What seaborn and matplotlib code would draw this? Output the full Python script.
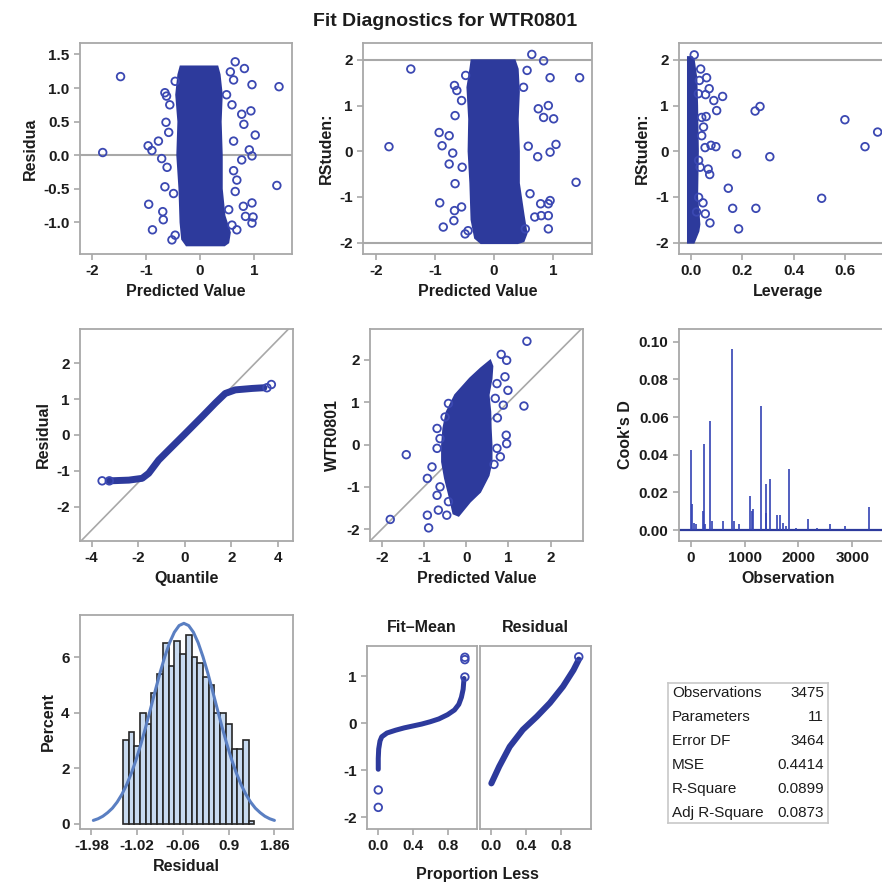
import matplotlib
matplotlib.use("Agg")
import matplotlib.pyplot as plt
from matplotlib.ticker import FormatStrFormatter
import seaborn as sns

sns.set_style("white")
plt.rcParams['font.family'] = ['Liberation Sans', 'DejaVu Sans']
plt.rcParams['font.weight'] = 'bold'
plt.rcParams['axes.labelweight'] = 'bold'
plt.rcParams['axes.unicode_minus'] = False

BLUE = '#2d3a9c'
RING = '#3b48b2'
GRAY = '#a8a8a8'
TXT = '#1c1c1c'

# --- residual vs predicted: dense core outline + separate circles
res_core_x = [-0.36, 0.32, 0.36, 0.40, 0.38, 0.40, 0.40, 0.45, 0.55, 0.52, 0.45, -0.25,
              -0.33, -0.36, -0.38, -0.42, -0.40, -0.44, -0.40]
res_core_y = [1.32, 1.32, 1.20, 0.90, 0.50, 0.00, -0.50, -0.90, -1.15, -1.30, -1.34, -1.34,
              -1.25, -1.00, -0.50, 0.00, 0.50, 0.90, 1.20]
res_pts_x = [-1.47, -1.80, 1.46, 1.42, 0.65, 0.82, 0.96, 0.94, 0.77, 0.81, 1.02, 0.91, 0.96,
             0.77, 0.62, 0.68, 0.96, 0.80, 0.98, 0.96, 0.84, 0.68, 0.59, 0.49, 0.62, 0.56,
             0.59, 0.62, 0.65, 0.53, -0.96, -0.89, -0.77, -0.95, -0.88, -0.69, -0.68, -0.65,
             -0.62, -0.56, -0.63, -0.71, -0.65, -0.61, -0.52, -0.46, -0.49, -0.58, -0.46]
res_pts_y = [1.17, 0.04, 1.02, -0.45, 1.39, 1.29, 1.05, 0.66, 0.61, 0.46, 0.30, 0.08, -0.01,
             -0.07, 0.21, -0.37, -0.71, -0.76, -0.92, -1.01, -0.91, -1.11, -1.04, 0.90, 1.12,
             1.24, 0.75, -0.23, -0.54, -0.81, 0.14, 0.07, 0.21, -0.73, -1.11, -0.84, -0.96,
             0.93, 0.88, 0.75, 0.49, -0.05, -0.47, -0.18, -1.26, -1.19, -0.57, 0.34, 1.10]

# --- RStudent vs predicted
rst_core_x = [-0.38, 0.35, 0.40, 0.42, 0.40, 0.42, 0.42, 0.50, 0.55, 0.50, 0.40, -0.22,
              -0.32, -0.38, -0.40, -0.43, -0.42, -0.45, -0.40]
rst_core_y = [1.99, 1.99, 1.80, 1.30, 0.70, 0.00, -0.70, -1.40, -1.80, -1.97, -2.01, -2.01,
              -1.90, -1.50, -0.70, 0.00, 0.70, 1.40, 1.80]
rst_pts_x = [-1.41, -1.78, 1.45, 1.39, 0.64, 0.84, 0.95, 0.92, 1.01, 0.75, 0.84, 1.05, 0.95,
             0.74, 0.58, 0.61, 0.95, 0.92, 0.79, 0.92, 0.92, 0.80, 0.69, 0.53, 0.50, 0.56,
             -0.93, -0.88, -0.76, -0.92, -0.86, -0.68, -0.67, -0.55, -0.67, -0.63, -0.55,
             -0.66, -0.70, -0.66, -0.54, -0.49, -0.48, -0.44, -0.76]
rst_pts_y = [1.80, 0.10, 1.61, -0.68, 2.12, 1.98, 1.61, 1.00, 0.71, 0.93, 0.74, 0.15, -0.02,
             -0.12, 0.11, -0.93, -1.08, -1.15, -1.15, -1.41, -1.70, -1.41, -1.44, -1.70, 1.40,
             1.77, 0.41, 0.12, 0.34, -1.13, -1.66, -1.52, -1.30, -1.22, 1.44, 1.33, 1.11, 0.78,
             -0.04, -0.71, -0.35, -1.81, 1.66, -1.74, -0.28]

# --- RStudent vs leverage
lev_core_x = [-0.010, 0.012, 0.030, 0.034, 0.025, 0.028, 0.025, 0.022, 0.012, 0.005, -0.010]
lev_core_y = [-2.00, -2.00, -1.75, -1.60, -1.00, 0.00, 1.00, 1.60, 2.00, 2.06, 2.06]
lev_pts_x = [0.014, 0.039, 0.062, 0.072, 0.058, 0.090, 0.124, 0.101, 0.269, 0.250, 0.598,
             0.725, 0.676, 0.307, 0.178, 0.098, 0.079, 0.056, 0.146, 0.163, 0.253, 0.186,
             0.508, 0.057, 0.075, 0.048, 0.068, 0.074, 0.037, 0.043, 0.060, 0.050, 0.043,
             0.034, 0.030, 0.031, 0.031, 0.023]
lev_pts_y = [2.11, 1.80, 1.61, 1.37, 1.24, 1.11, 1.20, 0.89, 0.98, 0.88, 0.69, 0.42, 0.10,
             -0.12, -0.06, 0.10, 0.13, 0.08, -0.81, -1.25, -1.25, -1.70, -1.03, -1.37, -1.57,
             -1.13, -0.39, -0.51, -0.35, 0.74, 0.76, 0.53, 0.34, 1.55, 1.26, -0.20, -1.01, -1.33]

# --- Q-Q plot of residuals
qq_quant = [-3.24, -2.40, -1.83, -1.55, -1.12, -0.69, -0.04, 0.74, 1.31, 1.74, 2.17, 2.89, 3.40]
qq_resid = [-1.28, -1.26, -1.21, -1.07, -0.70, -0.42, 0.00, 0.51, 0.89, 1.16, 1.26, 1.30, 1.32]
qq_end_q = [-3.55, -3.24, 3.53, 3.72]
qq_end_r = [-1.28, -1.28, 1.32, 1.41]
qq_slope = 0.664

# --- observed vs predicted
obs_core_x = [0.57, 0.62, 0.60, 0.53, 0.57, 0.58, 0.60, 0.60, 0.53, 0.33, 0.09, -0.18, -0.30,
              -0.38, -0.50, -0.57, -0.57, -0.54, -0.46, -0.26, 0.09, 0.35]
obs_core_y = [1.98, 1.85, 1.56, 1.17, 0.77, 0.38, -0.02, -0.41, -0.73, -1.12, -1.35, -1.68,
              -1.63, -1.28, -0.80, -0.41, -0.02, 0.38, 0.77, 1.17, 1.56, 1.80]
obs_pts_x = [1.44, 0.83, 0.96, 0.92, 0.99, 0.73, 0.69, 0.88, 1.37, 0.74, 0.95, 0.96, 0.73,
             0.81, 0.66, -1.42, -1.80, -0.89, -0.92, -0.66, -0.69, -0.92, -0.81, -0.62, -0.69,
             -0.62, -0.69, -0.42, -0.50, -0.42, -0.46]
obs_pts_y = [2.44, 2.13, 1.99, 1.60, 1.28, 1.44, 1.09, 0.93, 0.91, 0.63, 0.22, 0.02, -0.09,
             -0.29, -0.47, -0.24, -1.77, -1.97, -1.67, -1.55, -1.20, -0.80, -0.53, -1.00, 0.38,
             0.14, -0.09, 0.97, 0.65, -1.35, -1.67]

# --- Cook's D
cook_obs = [10, 20, 60, 90, 220, 240, 270, 350, 400, 600, 760, 810, 900, 1100, 1130, 1150,
            1310, 1390, 1400, 1480, 1600, 1650, 1710, 1760, 1820, 1950, 2170, 2350, 2580,
            2870, 3300]
cook_d = [0.0425, 0.014, 0.004, 0.003, 0.010, 0.0455, 0.003, 0.058, 0.005, 0.005, 0.096,
          0.005, 0.003, 0.018, 0.010, 0.011, 0.066, 0.009, 0.0245, 0.027, 0.008, 0.008,
          0.004, 0.002, 0.0325, 0.001, 0.006, 0.001, 0.003, 0.002, 0.012]

# --- residual histogram (percent) and normal curve
hist_mid = [-1.26, -1.14, -1.02, -0.90, -0.78, -0.66, -0.54, -0.42, -0.30, -0.18, -0.06,
            0.06, 0.18, 0.30, 0.42, 0.54, 0.66, 0.78, 0.90, 1.02, 1.14, 1.26, 1.38]
hist_pct = [3.0, 3.3, 2.8, 4.0, 3.6, 4.7, 5.4, 6.5, 5.7, 6.6, 6.1, 6.8, 6.0, 5.8, 5.3, 5.0,
            4.0, 4.0, 3.6, 2.7, 2.7, 3.0, 0.1]
norm_x = [-1.94, -1.84, -1.74, -1.64, -1.54, -1.44, -1.34, -1.24, -1.14, -1.04, -0.94, -0.84,
          -0.74, -0.64, -0.54, -0.44, -0.34, -0.24, -0.14, -0.04, 0.06, 0.16, 0.26, 0.36,
          0.46, 0.56, 0.66, 0.76, 0.86, 0.96, 1.06, 1.16, 1.26, 1.36, 1.46, 1.56, 1.66, 1.76,
          1.86]
norm_y = [0.12, 0.18, 0.27, 0.40, 0.56, 0.78, 1.06, 1.41, 1.83, 2.32, 2.88, 3.49, 4.14, 4.80,
          5.44, 6.02, 6.52, 6.90, 7.14, 7.22, 7.14, 6.90, 6.52, 6.02, 5.44, 4.80, 4.14, 3.49,
          2.88, 2.32, 1.83, 1.41, 1.06, 0.78, 0.56, 0.40, 0.27, 0.18, 0.12]

# --- residual-fit spread
fm_prop = [0.0, 0.0, 0.005, 0.02, 0.04, 0.10, 0.20, 0.30, 0.40, 0.50, 0.60, 0.70, 0.80,
           0.88, 0.93, 0.96, 0.98, 0.99]
fm_val = [-0.98, -0.75, -0.55, -0.38, -0.29, -0.21, -0.15, -0.10, -0.06, -0.02, 0.03, 0.09,
          0.18, 0.28, 0.40, 0.55, 0.72, 0.95]
fm_ext_p = [0.0, 0.0, 1.0, 1.0, 1.0]
fm_ext_v = [-1.79, -1.42, 0.98, 1.35, 1.40]
rs_prop = [0.0, 0.09, 0.21, 0.36, 0.52, 0.67, 0.82, 0.94, 1.0]
rs_val = [-1.28, -0.92, -0.50, -0.14, 0.14, 0.43, 0.78, 1.13, 1.35]

# --- fit statistics
stat_names = ["Observations", "Parameters", "Error DF", "MSE", "R-Square", "Adj R-Square"]
stat_vals = ["3475", "11", "3464", "0.4414", "0.0899", "0.0873"]

W, H = 882, 886
fig = plt.figure(figsize=(W / 100, H / 100), dpi=100)


def box(x0, y0, x1, y1, **kw):
    return fig.add_axes([x0 / W, 1 - y1 / H, (x1 - x0) / W, (y1 - y0) / H], **kw)


def dress(ax):
    for s in ax.spines.values():
        s.set_color(GRAY)
        s.set_linewidth(1.3)
    ax.tick_params(colors=GRAY, labelcolor=TXT, length=4, width=1.2, labelsize=11,
                   direction='out', bottom=True, left=True)
    ax.xaxis.label.set_color(TXT)
    ax.yaxis.label.set_color(TXT)
    ax.xaxis.label.set_size(11.5)
    ax.yaxis.label.set_size(11.5)


def rings(ax, x, y):
    sns.scatterplot(x=x, y=y, ax=ax, marker='o', s=30, facecolor='none',
                    edgecolor=RING, linewidth=1.3, zorder=3)


# row 1
ax = box(80, 43, 292, 254)
ax.axhline(0, color=GRAY, lw=1.5, zorder=1)
ax.fill(res_core_x, res_core_y, color=BLUE, zorder=2, lw=1.5, ec=BLUE)
rings(ax, res_pts_x, res_pts_y)
ax.set(xlim=(-2.22, 1.70), ylim=(-1.47, 1.67), xticks=[-2, -1, 0, 1],
       yticks=[-1.0, -0.5, 0.0, 0.5, 1.0, 1.5], xlabel='Predicted Value', ylabel='Residua')
ax.yaxis.set_major_formatter(FormatStrFormatter('%.1f'))
dress(ax)

ax = box(363, 43, 592, 254)
for v in (-2, 2):
    ax.axhline(v, color=GRAY, lw=1.5, zorder=1)
ax.fill(rst_core_x, rst_core_y, color=BLUE, zorder=2, lw=1.5, ec=BLUE)
rings(ax, rst_pts_x, rst_pts_y)
ax.set(xlim=(-2.22, 1.66), ylim=(-2.25, 2.37), xticks=[-2, -1, 0, 1],
       yticks=[-2, -1, 0, 1, 2], xlabel='Predicted Value', ylabel='RStuden:')
dress(ax)

ax = box(679, 43, 897, 254)
for v in (-2, 2):
    ax.axhline(v, color=GRAY, lw=1.5, zorder=1)
ax.fill(lev_core_x, lev_core_y, color=BLUE, zorder=2, lw=1.5, ec=BLUE)
rings(ax, lev_pts_x, lev_pts_y)
ax.set(xlim=(-0.045, 0.80), ylim=(-2.25, 2.37), xticks=[0.0, 0.2, 0.4, 0.6],
       yticks=[-2, -1, 0, 1, 2], xlabel='Leverage', ylabel='RStuden:')
ax.xaxis.set_major_formatter(FormatStrFormatter('%.1f'))
dress(ax)

# row 2
ax = box(80, 329, 293, 541)
ax.axline((0, 0), slope=qq_slope, color=GRAY, lw=1.2, zorder=1)
sns.lineplot(x=qq_quant, y=qq_resid, ax=ax, sort=False, estimator=None, color=BLUE, lw=5,
             solid_capstyle='round', zorder=2)
rings(ax, qq_end_q, qq_end_r)
ax.set(xlim=(-4.5, 4.65), ylim=(-2.96, 2.96), xticks=[-4, -2, 0, 2, 4],
       yticks=[-2, -1, 0, 1, 2], xlabel='Quantile', ylabel='Residual')
dress(ax)

ax = box(370, 329, 583, 541)
ax.axline((0, 0), slope=1, color=GRAY, lw=1.2, zorder=1)
ax.fill(obs_core_x, obs_core_y, color=BLUE, zorder=2, lw=1.5, ec=BLUE)
rings(ax, obs_pts_x, obs_pts_y)
ax.set(xlim=(-2.28, 2.77), ylim=(-2.28, 2.73), xticks=[-2, -1, 0, 1, 2],
       yticks=[-2, -1, 0, 1, 2], xlabel='Predicted Value', ylabel='WTR0801')
dress(ax)

ax = box(679, 329, 897, 541)
ax.axhline(0, color=BLUE, lw=1.6, zorder=1)
ax.vlines(cook_obs, 0, cook_d, color='#3443b4', lw=1.2, zorder=2)
ax.set(xlim=(-217, 3828), ylim=(-0.0058, 0.1067), xticks=[0, 1000, 2000, 3000],
       yticks=[0.0, 0.02, 0.04, 0.06, 0.08, 0.10], xlabel='Observation', ylabel="Cook's D")
ax.yaxis.set_major_formatter(FormatStrFormatter('%.2f'))
dress(ax)

# row 3
ax = box(80, 615, 293, 829)
sns.histplot(x=hist_mid, weights=hist_pct, binwidth=0.12, binrange=(-1.32, 1.44), ax=ax,
             color='#c8daf0', edgecolor='#262626', linewidth=1.2, alpha=1, zorder=2)
sns.lineplot(x=norm_x, y=norm_y, ax=ax, sort=False, estimator=None, color='#5a7fc2', lw=2.2,
             zorder=3)
ax.set(xlim=(-2.22, 2.25), ylim=(-0.19, 7.52), xticks=[-1.98, -1.02, -0.06, 0.9, 1.86],
       xticklabels=['-1.98', '-1.02', '-0.06', '0.9', '1.86'], yticks=[0, 2, 4, 6],
       xlabel='Residual', ylabel='Percent')
dress(ax)

axl = box(367, 646, 477, 829)
axr = box(480, 646, 591, 829, sharey=axl)
sns.lineplot(x=fm_prop, y=fm_val, ax=axl, sort=False, estimator=None, color=BLUE, lw=3.6,
             solid_capstyle='round', zorder=2)
rings(axl, fm_ext_p, fm_ext_v)
sns.lineplot(x=rs_prop, y=rs_val, ax=axr, sort=False, estimator=None, color=BLUE, lw=4.4,
             solid_capstyle='round', zorder=2)
rings(axr, [1.0], [1.41])
for a, t in ((axl, 'Fit\u2013Mean'), (axr, 'Residual')):
    a.set(xlim=(-0.13, 1.14), ylim=(-2.25, 1.64), xticks=[0.0, 0.4, 0.8], xlabel='', ylabel='')
    a.xaxis.set_major_formatter(FormatStrFormatter('%.1f'))
    a.set_title(t, fontsize=11.5, fontweight='bold', color=TXT, pad=10)
    dress(a)
axl.set_yticks([-2, -1, 0, 1])
axr.tick_params(left=False, labelleft=False)
fig.text(477 / W, 1 - 875 / H, 'Proportion Less', ha='center', va='center', fontsize=11.5,
         fontweight='bold', color=TXT)

# fit statistics table
ax = box(668, 683, 828, 823)
ax.set(xticks=[], yticks=[], xlim=(0, 1), ylim=(0, 1))
for s in ax.spines.values():
    s.set_color('#c8c8c8')
    s.set_linewidth(1.2)
for i, (n, v) in enumerate(zip(stat_names, stat_vals)):
    yy = 1 - (10 + 24 * i) / 140
    ax.text(0.025, yy, n, ha='left', va='center', fontsize=11, fontweight='normal', color=TXT)
    ax.text(0.975, yy, v, ha='right', va='center', fontsize=11, fontweight='normal', color=TXT)

fig.text(445 / W, 1 - 21 / H, 'Fit Diagnostics for WTR0801', ha='center', va='center',
         fontsize=14, fontweight='bold', color=TXT)

fig.savefig('out.png', dpi=100, facecolor='white')
